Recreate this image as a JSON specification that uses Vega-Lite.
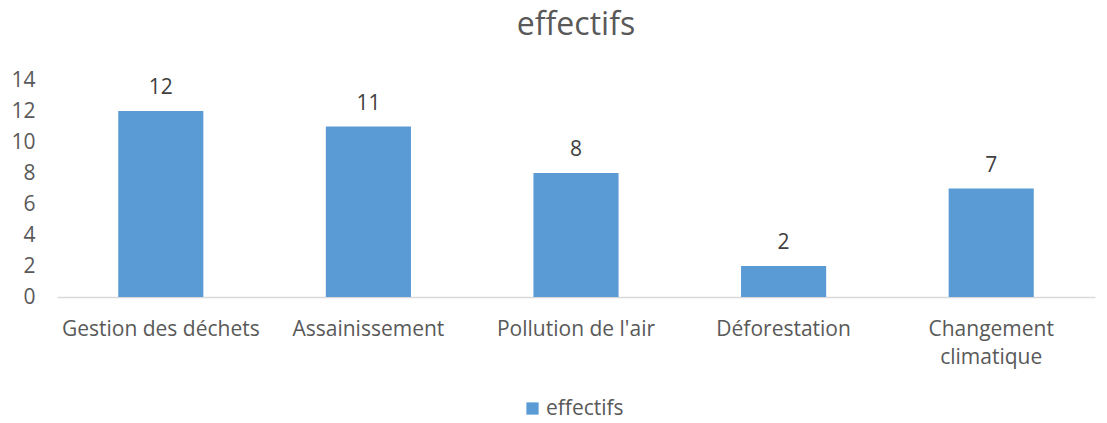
{
  "$schema": "https://vega.github.io/schema/vega-lite/v6.json",
  "autosize": {"type": "none"},
  "width": 1038,
  "height": 217,
  "padding": {"left": 57, "top": 80, "right": 12, "bottom": 126},
  "background": "white",
  "config": {
    "font": "Open Sans",
    "view": {"stroke": null}
  },
  "title": {
    "text": "effectifs",
    "fontSize": 32,
    "font": "Open Sans",
    "fontWeight": "normal",
    "color": "#595959",
    "anchor": "middle",
    "offset": 27
  },
  "data": {
    "values": [
      {"categorie": "Gestion des déchets", "effectifs": 12, "serie": "effectifs"},
      {"categorie": "Assainissement", "effectifs": 11, "serie": "effectifs"},
      {"categorie": "Pollution de l'air", "effectifs": 8, "serie": "effectifs"},
      {"categorie": "Déforestation", "effectifs": 2, "serie": "effectifs"},
      {"categorie": "Changement climatique", "effectifs": 7, "serie": "effectifs"}
    ]
  },
  "encoding": {
    "x": {
      "field": "categorie",
      "type": "nominal",
      "sort": null,
      "scale": {"paddingInner": 0.59, "paddingOuter": 0.295},
      "axis": {
        "title": null,
        "labelAngle": 0,
        "labelFontSize": 21,
        "labelColor": "#595959",
        "labelPadding": 21,
        "labelLineHeight": 28,
        "labelLimit": 0,
        "labelOverlap": false,
        "labelExpr": "datum.label == 'Changement climatique' ? ['Changement', 'climatique'] : datum.label",
        "ticks": false,
        "domainColor": "#d9d9d9",
        "domainWidth": 1.5
      }
    },
    "y": {
      "field": "effectifs",
      "type": "quantitative",
      "scale": {"domain": [0, 14]},
      "axis": {
        "title": null,
        "values": [0, 2, 4, 6, 8, 10, 12, 14],
        "grid": false,
        "domain": false,
        "ticks": false,
        "labelFontSize": 21,
        "labelColor": "#595959",
        "labelPadding": 22
      }
    }
  },
  "layer": [
    {
      "mark": {"type": "bar"},
      "encoding": {
        "color": {
          "field": "serie",
          "type": "nominal",
          "scale": {"range": ["#5b9bd5"]},
          "legend": {
            "title": null,
            "orient": "none",
            "legendX": 465,
            "legendY": 318,
            "symbolType": "square",
            "symbolSize": 150,
            "labelFontSize": 21,
            "labelColor": "#595959",
            "labelOffset": 3
          }
        }
      }
    },
    {
      "mark": {"type": "text", "baseline": "bottom", "dy": -13, "fontSize": 21, "color": "#404040"},
      "encoding": {
        "text": {"field": "effectifs", "type": "quantitative"}
      }
    }
  ]
}
